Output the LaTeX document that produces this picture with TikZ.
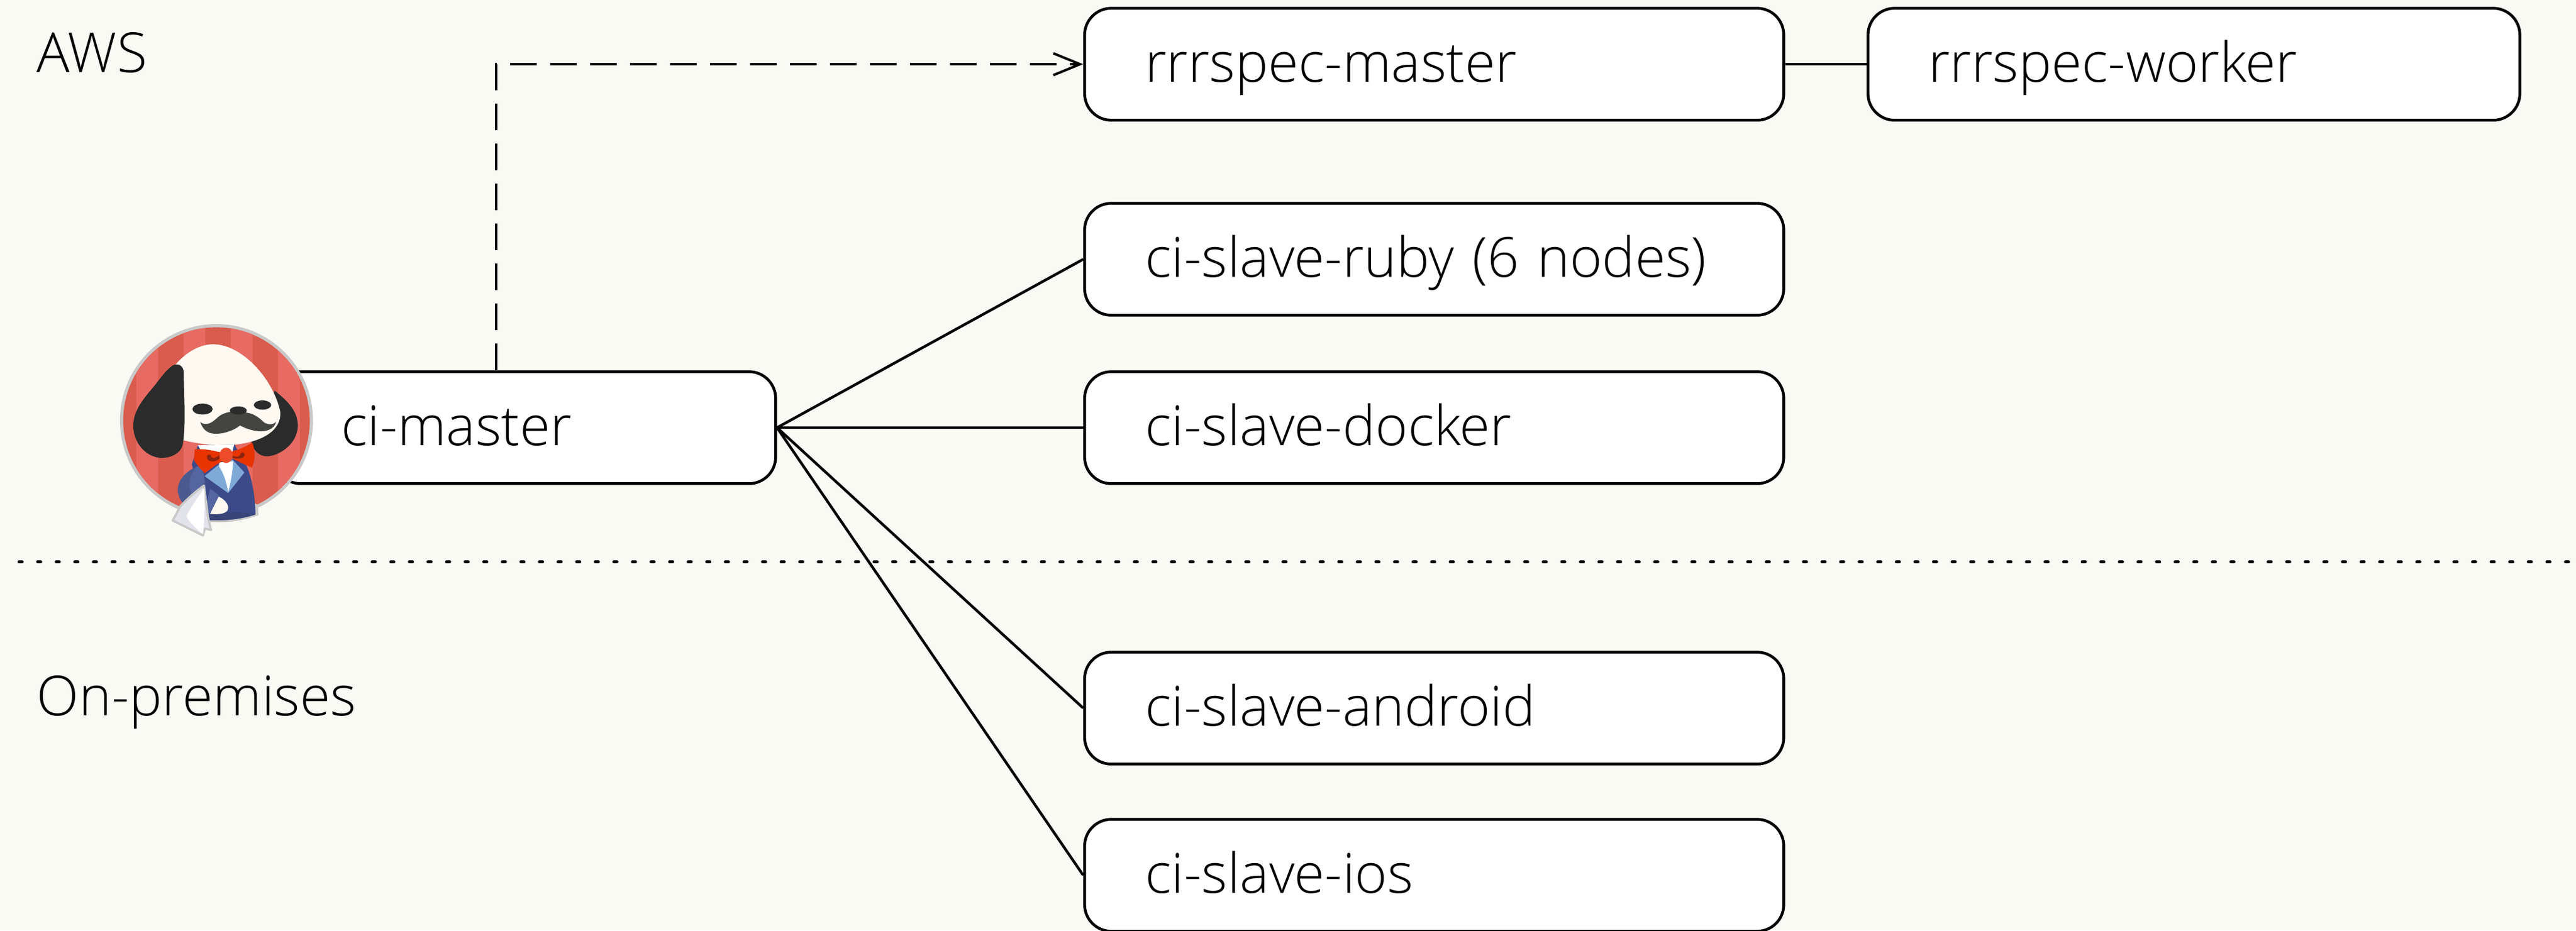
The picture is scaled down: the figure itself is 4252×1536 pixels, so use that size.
\documentclass[tikz,border=0pt]{standalone}
\usepackage{fontspec}
\setmainfont{Open Sans Light}
\usetikzlibrary{arrows.meta}
\definecolor{bgc}{HTML}{F9FAF4}
\definecolor{stripeA}{HTML}{D95C4E}
\definecolor{stripeB}{HTML}{E76A63}
\definecolor{ringc}{HTML}{C9C9C9}
\definecolor{creamc}{HTML}{FFF9F1}
\definecolor{earc}{HTML}{2B2B2B}
\definecolor{stachec}{HTML}{444440}
\definecolor{coatc}{HTML}{3D4A8A}
\definecolor{coatd}{HTML}{384378}
\definecolor{lapelc}{HTML}{7FAAD8}
\definecolor{bowc}{HTML}{E83400}
\definecolor{knotc}{HTML}{EE4B2B}
\definecolor{swirlc}{HTML}{8A2410}
\definecolor{armc}{HTML}{4A5A8F}
\definecolor{armd}{HTML}{54659F}
\definecolor{napc}{HTML}{E3E4EB}
\tikzset{
  label text/.style={anchor=west,inner sep=0pt,font=\fontsize{22.8}{26}\selectfont,text height=15pt,text depth=6pt},
  srv/.style={draw=black,fill=white,line width=1.15pt,rounded corners=11pt,anchor=west,
    minimum height=46.2pt,inner ysep=0pt,align=left,font=\fontsize{22.8}{26}\selectfont,
    text height=17.5pt,text depth=3pt},
  slave/.style={srv,text width=238.5pt,inner xsep=25pt,minimum width=288.5pt},
  worker/.style={srv,text width=219pt,inner xsep=25pt,minimum width=269pt},
  head/.style={srv,text width=151.6pt,inner xsep=27.7pt,minimum width=207pt},
  wire/.style={draw=black,line width=1.1pt},
  dashwire/.style={wire,dash pattern=on 11pt off 5.5pt,-{Straight Barb[length=11pt,width=9pt,line width=1pt]}},
  sep/.style={draw=black,line width=1.25pt,line cap=round,dash pattern=on 1.25pt off 6.42pt}
}
\begin{document}
\begin{tikzpicture}[x=0.25pt,y=-0.25pt]
\useasboundingbox (0,0) rectangle (4252,1536);
\fill[bgc] (0,0) rectangle (4252,1536);

% separator
\coordinate (sepL) at (31.5,927.5);
\coordinate (sepR) at (4252,927.5);
\draw[sep] (sepL) -- (sepR);

% labels
\node[label text] (aws) at (60,101) {AWS};
\node[label text] (onprem) at (60,1163) {On-premises};

% boxes
\node[head] (ci) at (450,706) {ci-master};
\node[slave] (master) at (1788,106) {rrrspec-master};
\node[worker] (workerbox) at (3081,106) {rrrspec-worker};
\node[slave] (ruby) at (1788,428) {ci-slave-ruby (6 nodes)};
\node[slave] (docker) at (1788,706) {ci-slave-docker};
\node[slave] (android) at (1788,1169) {ci-slave-android};
\node[slave] (ios) at (1788,1445) {ci-slave-ios};

% connectors
\coordinate (dashx) at (819,400);
\draw[dashwire] (ci.north -| dashx) |- (master.west);
\draw[wire] (master.east) -- (workerbox.west);
\draw[wire] (ci.east) -- (ruby.west);
\draw[wire] (ci.east) -- (docker.west);
\draw[wire] (ci.east) -- (android.west);
\draw[wire] (ci.east) -- (ios.west);

% icon
\begin{scope}[shift={(170,500)},x=0.08333pt,y=-0.08333pt]
  \fill[ringc] (562,583) circle[radius=478];
  \begin{scope}
    \clip (562,583) circle[radius=462];
    \fill[stripeA] (90,100) rectangle (1040,1100);
    \fill[stripeB] (165,100) rectangle (272,1100);
    \fill[stripeB] (400,100) rectangle (507,1100);
    \fill[stripeB] (632,100) rectangle (740,1100);
    \fill[stripeB] (868,100) rectangle (975,1100);
  \end{scope}
  % right ear
  \fill[earc] (850,435) .. controls (920,490) and (965,540) .. (965,610)
    .. controls (960,710) and (860,760) .. (810,760)
    .. controls (770,758) and (745,730) .. (735,690) -- cycle;
  % head
  \fill[creamc] (360,305) .. controls (420,235) and (490,205) .. (545,205)
    .. controls (690,205) and (845,380) .. (878,540)
    .. controls (885,630) and (790,695) .. (620,705)
    .. controls (540,708) and (460,695) .. (395,680) -- cycle;
  % left ear
  \fill[earc] (365,305) .. controls (390,305) and (400,325) .. (400,350)
    .. controls (400,450) and (412,600) .. (395,700)
    .. controls (385,750) and (330,768) .. (290,768)
    .. controls (210,765) and (150,690) .. (150,610)
    .. controls (150,540) and (190,490) .. (230,440)
    .. controls (270,395) and (305,340) .. (335,318)
    .. controls (345,308) and (355,305) .. (365,305) -- cycle;
  % eyes, nose
  \fill[earc] (493,526) ellipse[x radius=50,y radius=27];
  \fill[earc] (790,506) ellipse[x radius=43,y radius=23];
  % moustache
  \fill[stachec] (482,590) .. controls (510,615) and (545,590) .. (565,570)
    .. controls (590,545) and (640,530) .. (680,545)
    .. controls (730,535) and (770,565) .. (795,590)
    .. controls (820,610) and (850,600) .. (858,588)
    .. controls (845,640) and (770,655) .. (678,607)
    .. controls (640,640) and (560,660) .. (520,640)
    .. controls (500,630) and (488,610) .. (482,590) -- cycle;
  \fill[earc] (670,533) ellipse[x radius=42,y radius=20];
  % coat with outline at foot
  \fill[ringc] (745,990) -- (768,1000) -- (770,1052) .. controls (690,1080) and (600,1095) .. (500,1082) -- (500,1000) -- cycle;
  \fill[coatc] (470,705) -- (440,800) -- (505,1045) -- (512,1075)
    .. controls (600,1082) and (690,1070) .. (755,1048)
    .. controls (755,950) and (730,830) .. (700,790) -- (650,700) -- cycle;
  \fill[coatd] (505,1045) -- (512,1075) .. controls (600,1082) and (690,1070) .. (755,1048) .. controls (680,1030) and (580,1035) .. (505,1045) -- cycle;
  % collar and shirt
  \fill[white] (470,705) -- (650,700) -- (640,740) -- (490,740) -- cycle;
  \fill[lapelc] (575,800) -- (503,858) -- (620,942) -- (700,840) -- (640,775) -- cycle;
  \fill[white] (575,790) -- (645,785) .. controls (640,850) and (630,900) .. (620,935) .. controls (610,880) and (595,840) .. (575,810) -- cycle;
  % hand & sleeve
  \fill[creamc] (570,958) .. controls (610,975) and (630,1010) .. (615,1030) .. controls (600,1048) and (560,1048) .. (530,1045) -- cycle;
  \fill[armd] (530,920) -- (575,955) -- (530,1045) -- (506,1040) -- cycle;
  % arm
  \fill[armc] (470,808) .. controls (420,830) and (370,870) .. (370,930)
    .. controls (375,970) and (395,1000) .. (420,1010) -- (510,900) -- (495,840) -- cycle;
  \fill[armd] (470,808) .. controls (440,830) and (425,870) .. (428,915)
    .. controls (432,935) and (445,950) .. (455,955) -- (502,890) .. controls (505,850) and (490,815) .. (470,808) -- cycle;
  % bow tie
  \fill[bowc] (455,725) .. controls (500,722) and (540,730) .. (580,740)
    -- (590,785) .. controls (560,800) and (530,825) .. (505,843)
    .. controls (480,825) and (460,790) .. (450,780) -- cycle;
  \fill[bowc] (640,735) .. controls (680,725) and (710,710) .. (740,692)
    .. controls (750,720) and (752,750) .. (750,775) -- (738,816)
    .. controls (700,800) and (670,785) .. (640,770) -- cycle;
  \fill[swirlc] (575,755) .. controls (550,775) and (535,770) .. (535,755)
    .. controls (525,745) and (510,755) .. (515,770)
    .. controls (525,790) and (560,790) .. (578,770) -- cycle;
  \fill[swirlc] (640,755) .. controls (665,770) and (680,760) .. (682,745)
    .. controls (700,730) and (708,755) .. (695,765)
    .. controls (680,775) and (655,770) .. (640,768) -- cycle;
  \fill[knotc] (610,755) ellipse[x radius=33,y radius=38];
  % napkin
  \fill[napc,draw=ringc,line width=.9pt,line join=round] (385,1005) -- (345,1078) -- (495,1152)
     -- (505,1118) -- (535,1125) -- (520,1060) -- (500,905) .. controls (450,940) and (410,980) .. (385,1005) -- cycle;
  \fill[white] (502,918) .. controls (465,970) and (430,1020) .. (413,1058)
     .. controls (430,1090) and (465,1120) .. (495,1145) .. controls (502,1080) and (505,990) .. (502,918) -- cycle;
\end{scope}
\end{tikzpicture}
\end{document}
